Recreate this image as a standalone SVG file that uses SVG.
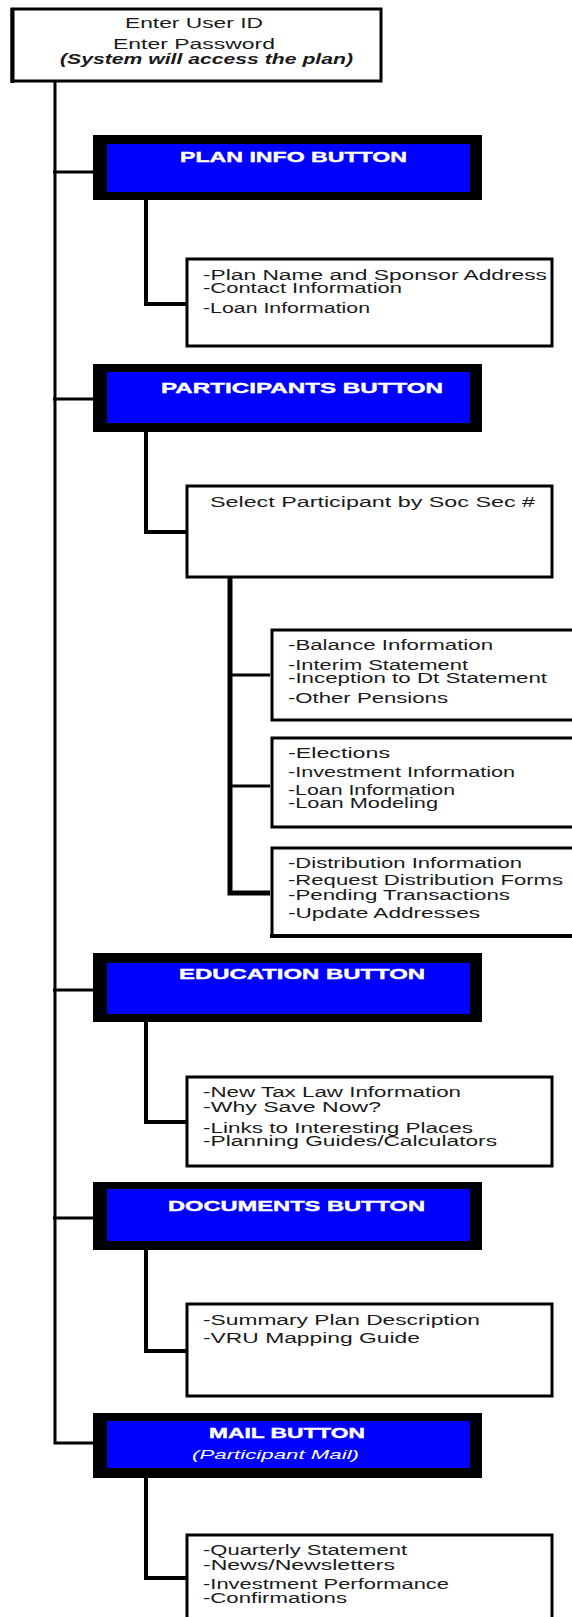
<svg xmlns="http://www.w3.org/2000/svg" width="572" height="1617" viewBox="0 0 572 1617">
<style>
.bg{fill:#fff}
.box{fill:#fff;stroke:#000;stroke-width:3}
.btnO{fill:#000}
.btnI{fill:#0000ff}
.t{font-family:"Liberation Sans",Arial,sans-serif;font-size:14px;fill:#1a1a1a}
.tt{font-family:"Liberation Sans",Arial,sans-serif;font-size:14px;fill:#1a1a1a}
.bt{font-family:"Liberation Sans",Arial,sans-serif;font-size:15px;font-weight:bold;fill:#fff;stroke:#fff;stroke-width:0.4}
.bi{font-family:"Liberation Sans",Arial,sans-serif;font-size:13px;font-style:italic;fill:#fff}
.c{stroke:#000;fill:none;stroke-width:3}
.c4{stroke:#000;fill:none;stroke-width:4}
.c5{stroke:#000;fill:none;stroke-width:5}
</style>
<rect class="bg" x="0" y="0" width="572" height="1617"/>
<g id="connectors">
  <path class="c" d="M55 82 V1443 H93"/>
  <path class="c" d="M53 172 H93"/>
  <path class="c" d="M53 399 H93"/>
  <path class="c" d="M53 990 H93"/>
  <path class="c" d="M53 1218 H93"/>
  <path class="c4" d="M146 200 V304 H186"/>
  <path class="c4" d="M146 432 V532 H186"/>
  <path class="c5" d="M230 577 V893 H270"/>
  <path class="c" d="M230 675 H270"/>
  <path class="c" d="M230 786 H270"/>
  <path class="c4" d="M146 1022 V1122 H186"/>
  <path class="c4" d="M146 1250 V1351 H186"/>
  <path class="c4" d="M146 1478 V1578 H186"/>
</g>
<g id="login">
  <rect class="box" x="12" y="9" width="369" height="72"/>
  <line x1="12.5" y1="8" x2="12.5" y2="83" stroke="#000" stroke-width="4"/>
  <text class="tt" x="125" y="28" textLength="138" lengthAdjust="spacingAndGlyphs">Enter User ID</text>
  <text class="tt" x="113" y="49" textLength="162" lengthAdjust="spacingAndGlyphs">Enter Password</text>
  <text class="tt" x="60" y="64" font-style="italic" font-weight="bold" textLength="293" lengthAdjust="spacingAndGlyphs">(System will access the plan)</text>
</g>
<g id="plan-info-button">
  <rect class="btnO" x="93" y="135" width="389" height="65"/>
  <rect class="btnI" x="107" y="144" width="363" height="48"/>
  <text class="bt" x="180" y="162" textLength="227" lengthAdjust="spacingAndGlyphs">PLAN INFO BUTTON</text>
</g>
<g id="plan-info-list">
  <rect class="box" x="187" y="259" width="365" height="87"/>
  <text class="t" x="203" y="280" textLength="344" lengthAdjust="spacingAndGlyphs">-Plan Name and Sponsor Address</text>
  <text class="t" x="203" y="293" textLength="199" lengthAdjust="spacingAndGlyphs">-Contact Information</text>
  <text class="t" x="203" y="313" textLength="167" lengthAdjust="spacingAndGlyphs">-Loan Information</text>
</g>
<g id="participants-button">
  <rect class="btnO" x="93" y="364" width="389" height="68"/>
  <rect class="btnI" x="107" y="372" width="363" height="51"/>
  <text class="bt" x="161" y="393" textLength="282" lengthAdjust="spacingAndGlyphs">PARTICIPANTS BUTTON</text>
</g>
<g id="select-participant">
  <rect class="box" x="187" y="486" width="365" height="91"/>
  <text class="t" x="210" y="507" textLength="325" lengthAdjust="spacingAndGlyphs">Select Participant by Soc Sec #</text>
</g>
<g id="balance-list">
  <rect class="box" x="272" y="630" width="310" height="90"/>
  <text class="t" x="288" y="650" textLength="205" lengthAdjust="spacingAndGlyphs">-Balance Information</text>
  <text class="t" x="288" y="670" textLength="180" lengthAdjust="spacingAndGlyphs">-Interim Statement</text>
  <text class="t" x="288" y="683" textLength="259" lengthAdjust="spacingAndGlyphs">-Inception to Dt Statement</text>
  <text class="t" x="288" y="703" textLength="160" lengthAdjust="spacingAndGlyphs">-Other Pensions</text>
</g>
<g id="elections-list">
  <rect class="box" x="272" y="738" width="310" height="89"/>
  <text class="t" x="288" y="758" textLength="102" lengthAdjust="spacingAndGlyphs">-Elections</text>
  <text class="t" x="288" y="777" textLength="227" lengthAdjust="spacingAndGlyphs">-Investment Information</text>
  <text class="t" x="288" y="795" textLength="167" lengthAdjust="spacingAndGlyphs">-Loan Information</text>
  <text class="t" x="288" y="808" textLength="150" lengthAdjust="spacingAndGlyphs">-Loan Modeling</text>
</g>
<g id="distribution-list">
  <rect class="box" x="272" y="848" width="310" height="88"/>
  <line x1="270" y1="936" x2="572" y2="936" stroke="#000" stroke-width="4"/>
  <text class="t" x="288" y="868" textLength="234" lengthAdjust="spacingAndGlyphs">-Distribution Information</text>
  <text class="t" x="288" y="885" textLength="275" lengthAdjust="spacingAndGlyphs">-Request Distribution Forms</text>
  <text class="t" x="288" y="900" textLength="222" lengthAdjust="spacingAndGlyphs">-Pending Transactions</text>
  <text class="t" x="288" y="918" textLength="192" lengthAdjust="spacingAndGlyphs">-Update Addresses</text>
</g>
<g id="education-button">
  <rect class="btnO" x="93" y="953" width="389" height="69"/>
  <rect class="btnI" x="107" y="963" width="363" height="51"/>
  <text class="bt" x="179" y="979" textLength="246" lengthAdjust="spacingAndGlyphs">EDUCATION BUTTON</text>
</g>
<g id="education-list">
  <rect class="box" x="187" y="1077" width="365" height="89"/>
  <text class="t" x="203" y="1097" textLength="258" lengthAdjust="spacingAndGlyphs">-New Tax Law Information</text>
  <text class="t" x="203" y="1112" textLength="178" lengthAdjust="spacingAndGlyphs">-Why Save Now?</text>
  <text class="t" x="203" y="1133" textLength="270" lengthAdjust="spacingAndGlyphs">-Links to Interesting Places</text>
  <text class="t" x="203" y="1146" textLength="294" lengthAdjust="spacingAndGlyphs">-Planning Guides/Calculators</text>
</g>
<g id="documents-button">
  <rect class="btnO" x="93" y="1182" width="389" height="68"/>
  <rect class="btnI" x="107" y="1189" width="363" height="52"/>
  <text class="bt" x="168" y="1211" textLength="257" lengthAdjust="spacingAndGlyphs">DOCUMENTS BUTTON</text>
</g>
<g id="documents-list">
  <rect class="box" x="187" y="1304" width="365" height="92"/>
  <text class="t" x="203" y="1325" textLength="277" lengthAdjust="spacingAndGlyphs">-Summary Plan Description</text>
  <text class="t" x="203" y="1343" textLength="217" lengthAdjust="spacingAndGlyphs">-VRU Mapping Guide</text>
</g>
<g id="mail-button">
  <rect class="btnO" x="93" y="1413" width="389" height="65"/>
  <rect class="btnI" x="107" y="1421" width="363" height="47"/>
  <text class="bt" x="209" y="1438" textLength="156" lengthAdjust="spacingAndGlyphs">MAIL BUTTON</text>
  <text class="bi" x="192" y="1459" textLength="167" lengthAdjust="spacingAndGlyphs">(Participant Mail)</text>
</g>
<g id="mail-list">
  <rect class="box" x="187" y="1535" width="365" height="100"/>
  <text class="t" x="203" y="1555" textLength="204" lengthAdjust="spacingAndGlyphs">-Quarterly Statement</text>
  <text class="t" x="203" y="1570" textLength="192" lengthAdjust="spacingAndGlyphs">-News/Newsletters</text>
  <text class="t" x="203" y="1589" textLength="246" lengthAdjust="spacingAndGlyphs">-Investment Performance</text>
  <text class="t" x="203" y="1603" textLength="144" lengthAdjust="spacingAndGlyphs">-Confirmations</text>
</g>
</svg>
